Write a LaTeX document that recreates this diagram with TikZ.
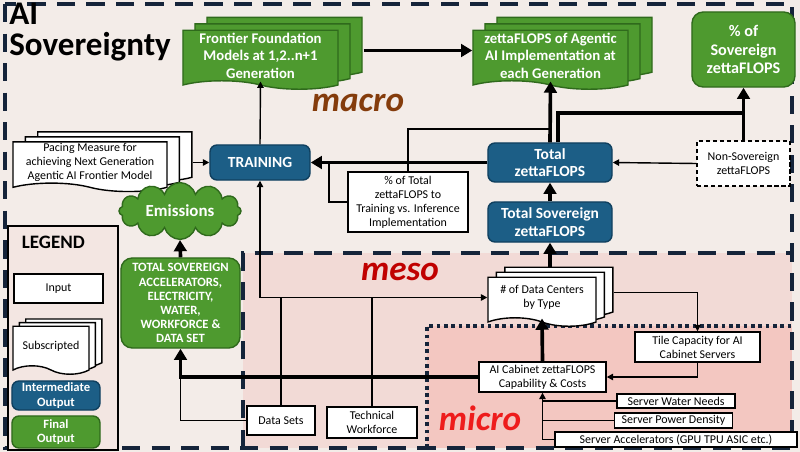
\documentclass[tikz,border=0pt]{standalone}
\usepackage{fontspec}
\setmainfont{Carlito}
\usepackage{tikz}
\usetikzlibrary{arrows.meta,calc,positioning,shapes.symbols,shadows}

\definecolor{macrobg}{HTML}{F3ECE8}
\definecolor{mesobg}{HTML}{F2DAD6}
\definecolor{microbg}{HTML}{F3C7C1}
\definecolor{legendbg}{HTML}{F3E6E2}
\definecolor{rimnavy}{HTML}{15243A}
\definecolor{ofill}{HTML}{4E9A2F}
\definecolor{oline}{HTML}{2F6A1C}
\definecolor{ifill}{HTML}{1C5E86}
\definecolor{iline}{HTML}{10405F}
\definecolor{macrotxt}{HTML}{843C0C}
\definecolor{mesotxt}{HTML}{C00000}
\definecolor{microtxt}{HTML}{EE1C1C}

\newcommand{\fsz}[2]{\fontsize{#1}{#2}\selectfont}

\begin{document}
\begin{tikzpicture}[
  x=0.025cm, y=-0.025cm,
  inputbox/.style={rectangle,draw,fill=white,line width=1pt,align=center,inner sep=1pt,font=\fsz{8.5}{10}},
  dashbox/.style={inputbox,dash pattern=on 3pt off 2pt},
  docpage/.style={tape,tape bend top=none,tape bend bottom=out and in,tape bend height=6pt,draw,line width=1pt,align=center,inner sep=1pt},
  whitedoc/.style 2 args={docpage,fill=white,font=\fsz{8.5}{10},
    copy shadow={shadow xshift=2*#1,shadow yshift=2*#2},
    copy shadow={shadow xshift=#1,shadow yshift=#2}},
  greendoc/.style={docpage,fill=ofill,draw=oline,text=white,font=\fsz{10.5}{12.5}\bfseries,
    copy shadow={shadow xshift=0.6cm,shadow yshift=0.32cm,fill=ofill,draw=oline},
    copy shadow={shadow xshift=0.3cm,shadow yshift=0.16cm,fill=ofill,draw=oline}},
  interbox/.style={rectangle,rounded corners=5pt,draw=iline,fill=ifill,line width=1pt,text=white,align=center,inner sep=1pt,font=\fsz{11}{12.5}\bfseries},
  finalbox/.style={rectangle,rounded corners=8pt,draw=oline,fill=ofill,line width=1pt,text=white,align=center,inner sep=1pt,font=\fsz{11}{12.8}\bfseries},
  titletext/.style={anchor=base west,inner sep=0pt,font=\fsz{23.5}{23.5}\bfseries},
  scalelabel/.style={anchor=base,font=\fsz{25}{25}\bfseries\itshape},
  link/.style={line width=1pt},
  arrow/.style={link,-{Triangle[length=4.5pt,width=4.5pt]}},
  bigline/.style={line width=2.6pt},
  bigarrow/.style={bigline,-{Triangle[length=8pt,width=9pt]}}
]
  \useasboundingbox (0,0) rectangle (800,452);

  % macro / meso / micro regions
  \fill[macrobg] (0,0) rectangle (800,452);
  \fill[mesobg] (243,253) rectangle (792,448);
  \fill[microbg] (427,326) rectangle (792,448);
  \draw[rimnavy,line width=2.6pt,dash pattern=on 13pt off 8pt] (5,4) rectangle (792,448);
  \draw[rimnavy,line width=2.6pt,dash pattern=on 13pt off 8pt] (243,448) -- (243,253) -- (792,253);
  \draw[rimnavy,line width=2.6pt,dash pattern=on 2.6pt off 2.6pt] (427,448) -- (427,326) -- (792,326);

  \node[titletext] (titletop) at (9,25) {AI};
  \node[titletext] (titlebottom) at (9,56) {Sovereignty};
  \node[scalelabel,text=macrotxt] (macrolbl) at (358,112) {macro};
  \node[scalelabel,text=mesotxt] (mesolbl) at (400,280) {meso};
  \node[scalelabel,text=microtxt] (microlbl) at (480,430) {micro};

  % legend
  \draw[line width=2pt,fill=legendbg] (8,226) rectangle (118,450);
  \node[anchor=west,font=\fsz{13.5}{14}\bfseries] (legendtitle) at (17,242) {LEGEND};
  \node[inputbox,minimum width=2.225cm,minimum height=0.725cm] (keyinput) at (58.5,288.5) {Input};
  \node[whitedoc={0.16cm}{0.09cm},minimum width=1.9cm,minimum height=1.2cm] (keysub) at (51,346) {Subscripted};
  \node[interbox,font=\fsz{9}{10.5}\bfseries,minimum width=2.2cm,minimum height=0.725cm] (keyinter) at (56,395.5) {Intermediate\\Output};
  \node[finalbox,rounded corners=5pt,font=\fsz{9}{10.5}\bfseries,minimum width=2.2cm,minimum height=0.8cm] (keyfinal) at (56,432) {Final\\Output};

  % nodes
  \node[greendoc,minimum width=3.875cm,minimum height=1.475cm] (frontier) at (260.5,55.5) {Frontier Foundation\\Models at 1,2..n+1\\Generation};
  \node[greendoc,minimum width=3.875cm,minimum height=1.475cm] (agentic) at (550.5,55.5) {zettaFLOPS of Agentic\\AI Implementation at\\each Generation};
  \node[finalbox,font=\fsz{11.5}{13}\bfseries,minimum width=2.575cm,minimum height=1.875cm] (sovshare) at (743.5,49.5) {\% of\\Sovereign\\zettaFLOPS};
  \node[interbox,minimum width=2.5cm,minimum height=0.875cm] (training) at (260,162.5) {TRAINING};
  \node[whitedoc={0.31cm}{0.125cm},minimum width=3.85cm,minimum height=1.175cm] (pacing) at (90,162.5) {Pacing Measure for\\achieving Next Generation\\Agentic AI Frontier Model};
  \node[cloud,cloud puffs=12,aspect=2.5,draw=oline,fill=ofill,line width=1pt,text=white,font=\fsz{12}{12}\bfseries,minimum width=3.05cm,minimum height=1.25cm,inner sep=0pt] (emissions) at (180,211) {Emissions};
  \node[inputbox,minimum width=3cm,minimum height=1.5cm] (trainshare) at (408,202) {\% of Total\\zettaFLOPS to\\Training vs. Inference\\Implementation};
  \node[interbox,minimum width=3.1cm,minimum height=0.975cm] (totalzf) at (550,162.5) {Total\\zettaFLOPS};
  \node[interbox,minimum width=3.1cm,minimum height=1cm] (totalsov) at (550,222) {Total Sovereign\\zettaFLOPS};
  \node[dashbox,minimum width=2.325cm,minimum height=1.125cm] (nonsov) at (743.5,163.5) {Non-Sovereign\\zettaFLOPS};
  \node[finalbox,font=\fsz{9}{10}\bfseries,minimum width=2.975cm,minimum height=2.25cm] (resources) at (180.5,303) {TOTAL SOVEREIGN\\ACCELERATORS,\\ELECTRICITY,\\WATER,\\WORKFORCE \&\\DATA SET};
  \node[whitedoc={0.21cm}{0.125cm},minimum width=2.7cm,minimum height=1.225cm] (centers) at (542,297.5) {\# of Data Centers\\by Type};
  \node[inputbox,minimum width=3.125cm,minimum height=0.75cm] (tiles) at (697.5,347) {Tile Capacity for AI\\Cabinet Servers};
  \node[inputbox,minimum width=3.175cm,minimum height=0.75cm] (cabinet) at (542.5,377) {AI Cabinet zettaFLOPS\\Capability \& Costs};
  \node[inputbox,minimum width=2.95cm,minimum height=0.35cm] (water) at (676,401) {Server Water Needs};
  \node[inputbox,minimum width=2.95cm,minimum height=0.375cm] (power) at (673.5,420.5) {Server Power Density};
  \node[inputbox,minimum width=6.05cm,minimum height=0.375cm] (accel) at (676,439.5) {Server Accelerators (GPU TPU ASIC etc.)};
  \node[inputbox,minimum width=1.7cm,minimum height=0.725cm] (datasets) at (281,420.5) {Data Sets};
  \node[inputbox,minimum width=2.25cm,minimum height=0.775cm] (workforce) at (372,422.5) {Technical\\Workforce};

  % connectors
  \draw[arrow] (training.north) -- (frontier.south);
  \draw[bigarrow] ($(frontier.east)+(25,-5)$) -- ($(agentic.west)+(0,-5)$);
  \draw[bigarrow] (totalzf.north) -- (agentic.south);
  \coordinate (sovjoin) at (743,113);
  \draw[bigline] ($(totalzf.north)+(8,0)$) |- (sovjoin);
  \draw[bigarrow] (nonsov.north) -- (sovshare.south);
  \draw[arrow] (nonsov.west) -- (totalzf.east);
  \draw[bigarrow] (totalzf.west) -- (training.east);
  \coordinate (trainjoin) at (329,162.5);
  \coordinate (agentjoin) at (550,129);
  \draw[link] (trainshare.west) -| (trainjoin);
  \draw[link] (trainshare.north) |- (agentjoin);
  \draw[bigarrow] (totalsov.north) -- (totalzf.south);
  \draw[bigarrow] ($(centers.north)+(8,-10)$) -- (totalsov.south);
  \draw[bigarrow] (cabinet.north) -- (centers.south);
  \draw[arrow] ($(centers.east)+(17,-5)$) -| (tiles.north);
  \draw[arrow] (tiles.south) |- (cabinet.east);
  \draw[arrow] (accel.west) -| (cabinet.south);
  \draw[link] (water.west) -- (water.west -| cabinet.south);
  \draw[link] (power.west) -- (power.west -| cabinet.south);
  \draw[bigarrow] (cabinet.west) -| (resources.south);
  \draw[link] (datasets.west) -| (resources.south |- cabinet.west);
  \coordinate (mesojoin) at (training.south |- centers.west);
  \draw[arrow] (mesojoin) -- (centers.west);
  \draw[arrow] (mesojoin) -- (training.south);
  \draw[link] (datasets.north) -- (datasets.north |- centers.west);
  \draw[link] (workforce.north) -- (workforce.north |- centers.west);
  \draw[bigarrow] (resources.north) -- (emissions.south);
  \draw[arrow] ($(pacing.east)+(25,0)$) -- (training.west);
\end{tikzpicture}
\end{document}
